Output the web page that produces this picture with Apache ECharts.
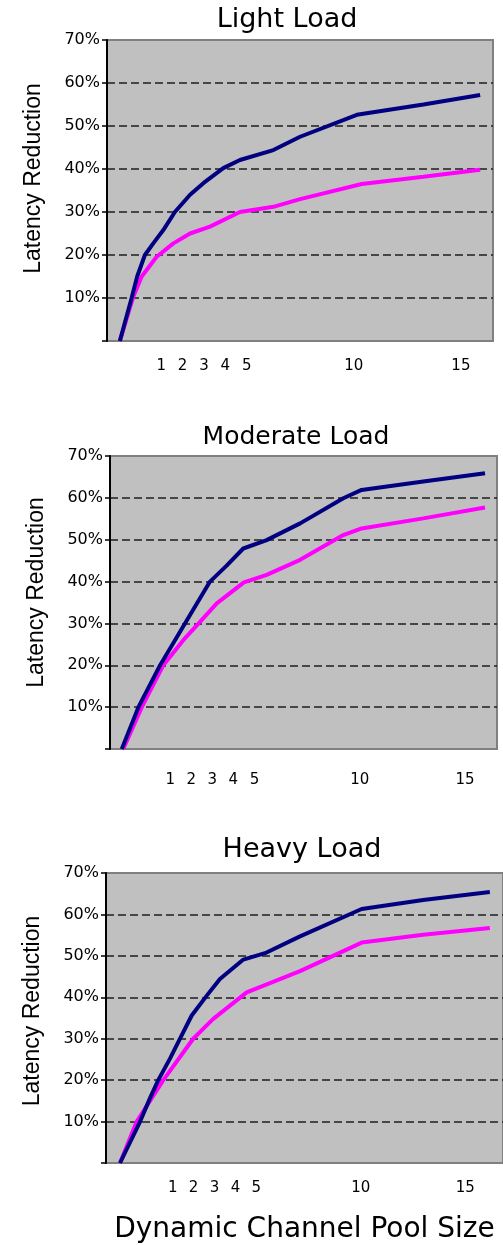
<!DOCTYPE html>
<html>
<head>
<meta charset="utf-8">
<script src="https://cdn.jsdelivr.net/npm/echarts@6/dist/echarts.min.js"></script>
<style>
  html, body { margin: 0; padding: 0; background: #ffffff; }
  #chart { width: 503px; height: 1245px; }
</style>
</head>
<body>
<div id="chart"></div>
<script>
// ---- data (pool size, latency reduction %) ----
const panelTitles = ['Light Load', 'Moderate Load', 'Heavy Load'];
const xTickValues = [1, 2, 3, 4, 5, 10, 15];
const yAxisName = 'Latency Reduction';
const xAxisName = 'Dynamic Channel Pool Size';

const lightUpper = [[-0.93,0],[-0.38,10],[-0.12,15],[0.24,20],[0.63,22.7],[1.10,25.8],[1.64,30],[2.35,34],[2.97,36.7],[3.90,40.2],[4.68,42.1],[6.24,44.4],[7.49,47.5],[10.14,52.6],[13.25,55.0],[15.9,57.2]];
const lightLower = [[-0.93,0],[-0.30,10.3],[0.09,15],[0.79,19.6],[1.57,22.7],[2.35,25],[3.28,26.6],[4.68,30],[6.24,31.2],[7.49,33],[10.37,36.5],[13.25,38.2],[15.9,39.8]];

const moderateUpper = [[-1.30,0],[-0.51,10],[0.52,20],[1.70,30],[2.89,40],[3.68,43.8],[4.47,47.9],[5.58,49.9],[7.17,53.9],[9.22,59.9],[10.09,61.9],[13.02,63.9],[15.95,65.9]];
const moderateLower = [[-1.23,0],[-0.35,10],[0.67,20],[1.62,26],[2.35,30],[3.21,34.8],[4.50,39.8],[5.58,41.6],[7.17,45.2],[9.22,51.1],[10.09,52.7],[13.02,55.1],[15.95,57.7]];

const heavyUpper = [[-1.52,0],[-0.56,10],[-0.09,15.6],[0.31,20],[0.87,25.2],[1.35,30],[1.91,35.6],[2.63,40.4],[3.26,44.4],[4.38,49.1],[5.49,50.8],[7.09,54.7],[10.04,61.3],[12.98,63.5],[16.17,65.4]];
const heavyLower = [[-1.52,0],[-0.72,10],[0.55,20],[1.98,30],[2.94,34.8],[4.54,41.2],[7.09,46.3],[10.04,53.2],[12.98,55.1],[16.17,56.7]];

const upperSeries = [lightUpper, moderateUpper, heavyUpper];
const lowerSeries = [lightLower, moderateLower, heavyLower];

// ---- layout / style ----
const grids = [
  { left: 107, top: 40,  width: 386, height: 301 },
  { left: 110, top: 456, width: 387, height: 293 },
  { left: 106, top: 873, width: 397, height: 292 }
];
const xRanges = [[-1.53, 16.5], [-1.86, 16.52], [-2.19, 16.8]];
const xLabelMargins = [18, 24, 18];
const yNameShift = [24, 20, 14];
const titleLayout = [
  { left: 287, top: 6, size: 27 },
  { left: 296, top: 425, size: 25 },
  { left: 302, top: 836, size: 27 }
];
const UPPER_COLOR = '#000080';
const LOWER_COLOR = '#ff00ff';
const dash = '#1e1e1e';
const noLine = 'rgba(0,0,0,0)';

const option = {
  animation: false,
  backgroundColor: '#ffffff',
  title: panelTitles.map((t, i) => ({
    text: t,
    left: titleLayout[i].left,
    top: titleLayout[i].top,
    textAlign: 'center',
    padding: 0,
    textStyle: { fontFamily: 'DejaVu Sans', fontSize: titleLayout[i].size, fontWeight: 'normal', color: '#000' }
  })),
  grid: grids.map(g => Object.assign({
    show: true,
    backgroundColor: '#c0c0c0',
    borderColor: '#808080',
    borderWidth: 2
  }, g)),
  xAxis: grids.map((g, i) => ({
    type: 'value',
    gridIndex: i,
    min: xRanges[i][0],
    max: xRanges[i][1],
    axisLine: { show: false, onZero: false },
    axisTick: { show: false },
    splitLine: { show: false },
    axisLabel: {
      customValues: xTickValues,
      margin: xLabelMargins[i],
      fontFamily: 'DejaVu Sans',
      fontSize: 15,
      color: '#000'
    },
    name: i === 2 ? xAxisName : '',
    nameLocation: 'middle',
    nameGap: 53,
    nameTextStyle: { fontFamily: 'DejaVu Sans', fontSize: 28, color: '#000' }
  })),
  yAxis: grids.map((g, i) => ({
    type: 'value',
    gridIndex: i,
    min: 0,
    max: 70,
    interval: 10,
    axisLine: { show: true, onZero: false, lineStyle: { color: '#000', width: 2 } },
    axisTick: { show: true, length: 5, lineStyle: { color: '#000', width: 1.5 } },
    axisLabel: {
      formatter: v => (v === 0 ? '' : v + '%'),
      margin: 7,
      fontFamily: 'DejaVu Sans',
      fontSize: 16,
      color: '#000'
    },
    splitLine: {
      show: true,
      lineStyle: {
        type: [8, 4],
        width: 1.5,
        color: [noLine, dash, dash, dash, dash, dash, dash, noLine]
      }
    },
    name: yAxisName,
    nameLocation: 'middle',
    nameRotate: 90,
    nameGap: 62,
    nameTextStyle: {
      fontFamily: 'Liberation Sans',
      fontSize: 23,
      color: '#000',
      padding: [0, 0, 0, yNameShift[i]]
    }
  })),
  series: [].concat(
    upperSeries.map((d, i) => ({
      name: 'Upper ' + panelTitles[i],
      type: 'line',
      xAxisIndex: i,
      yAxisIndex: i,
      data: d,
      showSymbol: false,
      symbol: 'none',
      lineStyle: { color: UPPER_COLOR, width: 4 },
      z: 3
    })),
    lowerSeries.map((d, i) => ({
      name: 'Lower ' + panelTitles[i],
      type: 'line',
      xAxisIndex: i,
      yAxisIndex: i,
      data: d,
      showSymbol: false,
      symbol: 'none',
      lineStyle: { color: LOWER_COLOR, width: 4 },
      z: 2
    }))
  )
};

const chart = echarts.init(document.getElementById('chart'), null, { renderer: 'canvas' });
chart.setOption(option);
</script>
</body>
</html>
